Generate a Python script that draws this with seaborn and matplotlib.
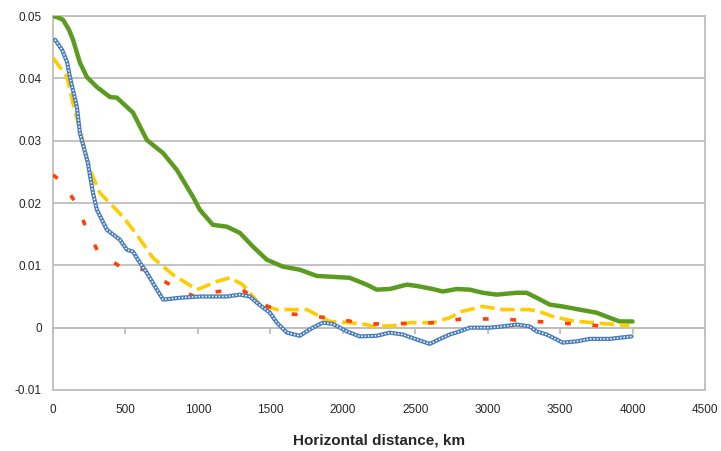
import matplotlib
matplotlib.use("Agg")
import matplotlib.pyplot as plt
import seaborn as sns
import numpy as np

green_x = [0, 30, 69, 110, 138, 186, 234, 303, 393, 441, 552, 648, 760, 855, 966, 1014, 1103, 1200, 1290, 1380, 1476, 1586, 1703, 1820, 2048, 2165, 2234, 2324, 2441, 2510, 2621, 2690, 2786, 2876, 2966, 3062, 3200, 3269, 3338, 3428, 3517, 3634, 3752, 3841, 3910, 4000]
green_y = [0.0500, 0.0498, 0.0494, 0.0478, 0.0462, 0.0425, 0.0402, 0.0386, 0.0370, 0.0369, 0.0345, 0.0301, 0.0280, 0.0253, 0.0210, 0.0189, 0.0165, 0.0162, 0.0152, 0.0130, 0.0109, 0.0098, 0.0093, 0.0083, 0.0080, 0.0069, 0.0061, 0.0062, 0.0069, 0.0067, 0.0062, 0.0058, 0.0062, 0.0061, 0.0056, 0.0053, 0.0056, 0.0056, 0.0048, 0.0037, 0.0034, 0.0029, 0.0024, 0.0016, 0.0010, 0.0010]

blue_x = [14, 62, 97, 117, 138, 165, 186, 241, 276, 303, 372, 462, 510, 552, 600, 648, 717, 760, 876, 1014, 1200, 1290, 1359, 1407, 1497, 1545, 1614, 1703, 1793, 1862, 1931, 2028, 2117, 2234, 2324, 2414, 2510, 2600, 2690, 2738, 2807, 2876, 3014, 3103, 3200, 3290, 3338, 3407, 3476, 3517, 3614, 3703, 3841, 3993]
blue_y = [0.0462, 0.0446, 0.0426, 0.0402, 0.0381, 0.0354, 0.0312, 0.0264, 0.0216, 0.0189, 0.0157, 0.0141, 0.0125, 0.0122, 0.0104, 0.0088, 0.0061, 0.0045, 0.0048, 0.0050, 0.0050, 0.0053, 0.0050, 0.0040, 0.0024, 0.0008, -0.0008, -0.0013, 0.0000, 0.0008, 0.0006, -0.0006, -0.0014, -0.0013, -0.0008, -0.0011, -0.0019, -0.0026, -0.0016, -0.0011, -0.0006, 0.0000, 0.0000, 0.0002, 0.0005, 0.0002, -0.0006, -0.0011, -0.0019, -0.0024, -0.0022, -0.0018, -0.0018, -0.0014]

yellow_x = [0, 97, 138, 186, 255, 324, 483, 579, 690, 828, 993, 1131, 1221, 1310, 1428, 1545, 1752, 1841, 1910, 2048, 2165, 2207, 2345, 2462, 2621, 2738, 2821, 2966, 3103, 3290, 3379, 3448, 3586, 3724, 3890, 3979]
yellow_y = [0.0433, 0.0402, 0.0360, 0.0317, 0.0253, 0.0216, 0.0178, 0.0149, 0.0112, 0.0085, 0.0061, 0.0074, 0.0080, 0.0069, 0.0037, 0.0029, 0.0029, 0.0018, 0.0010, 0.0008, 0.0005, 0.0002, 0.0003, 0.0008, 0.0008, 0.0016, 0.0026, 0.0034, 0.0029, 0.0029, 0.0024, 0.0018, 0.0011, 0.0008, 0.0005, 0.0003]

red_x = [0, 62, 152, 221, 310, 462, 634, 807, 966, 1138, 1303, 1483, 1648, 1966, 2152, 2303, 2634, 2821, 2979, 3152, 3324, 3483, 3655, 3821]
red_y = [0.0245, 0.0234, 0.0202, 0.0165, 0.0122, 0.0098, 0.0093, 0.0069, 0.0051, 0.0058, 0.0061, 0.0034, 0.0022, 0.0014, 0.0006, 0.0006, 0.0008, 0.0014, 0.0014, 0.0013, 0.0010, 0.0008, 0.0005, 0.0002]

x_ticks = [0, 500, 1000, 1500, 2000, 2500, 3000, 3500, 4000, 4500]
y_ticks = [-0.01, 0, 0.01, 0.02, 0.03, 0.04, 0.05]
y_labels = ["-0.01", "0", "0.01", "0.02", "0.03", "0.04", "0.05"]
x_label = "Horizontal distance, km"

sns.set_style("white")
plt.rcParams['font.family'] = ['Liberation Sans', 'DejaVu Sans']

fig = plt.figure(figsize=(7.21, 4.51), dpi=100)
ax = fig.add_axes([53/721, 1-390/451, (705-53)/721, (390-16)/451])

grid_c = "#BEBEBE"
ax.set_xlim(0, 4500)
ax.set_ylim(-0.01, 0.05)
ax.set_yticks(y_ticks)
ax.set_yticklabels(y_labels)
ax.set_xticks(x_ticks)
ax.set_xticklabels([str(t) for t in x_ticks])
ax.yaxis.grid(True, color=grid_c, lw=1.3)
ax.set_axisbelow(True)
for s in ax.spines.values():
    s.set_color(grid_c)
    s.set_linewidth(1.3)
ax.tick_params(axis='y', length=4, width=1.3, color=grid_c, direction='out', labelsize=8.5, pad=4)
ax.tick_params(axis='x', length=0, labelsize=8.5, pad=10)

sec = ax.secondary_xaxis(1/6)
sec.set_xticks(x_ticks)
sec.tick_params(axis='x', length=4, width=1.3, color=grid_c, direction='out', labelbottom=False, labeltop=False)
for s in sec.spines.values():
    s.set_color(grid_c)
    s.set_linewidth(1.3)

sns.lineplot(x=green_x, y=green_y, ax=ax, color="#5B9B20", lw=3.2, sort=False, zorder=3)
sns.lineplot(x=yellow_x, y=yellow_y, ax=ax, color="#FFCC00", lw=2.6, sort=False, zorder=4)
ax.lines[-1].set_dashes((4, 1.6))
sns.lineplot(x=red_x, y=red_y, ax=ax, color="#FF4000", lw=2.6, sort=False, zorder=4)
ax.lines[-1].set_dashes((1.6, 6))
sns.lineplot(x=blue_x, y=blue_y, ax=ax, color="#4A7EBB", lw=3.0, sort=False, zorder=5)
sns.lineplot(x=blue_x, y=blue_y, ax=ax, color="white", lw=1.1, sort=False, zorder=6)
ax.lines[-1].set_dashes((1, 1.2))

ax.set_xlabel(x_label, fontsize=11, fontweight='bold', labelpad=13)
ax.set_ylabel("")

fig.savefig("out.png", dpi=100)
